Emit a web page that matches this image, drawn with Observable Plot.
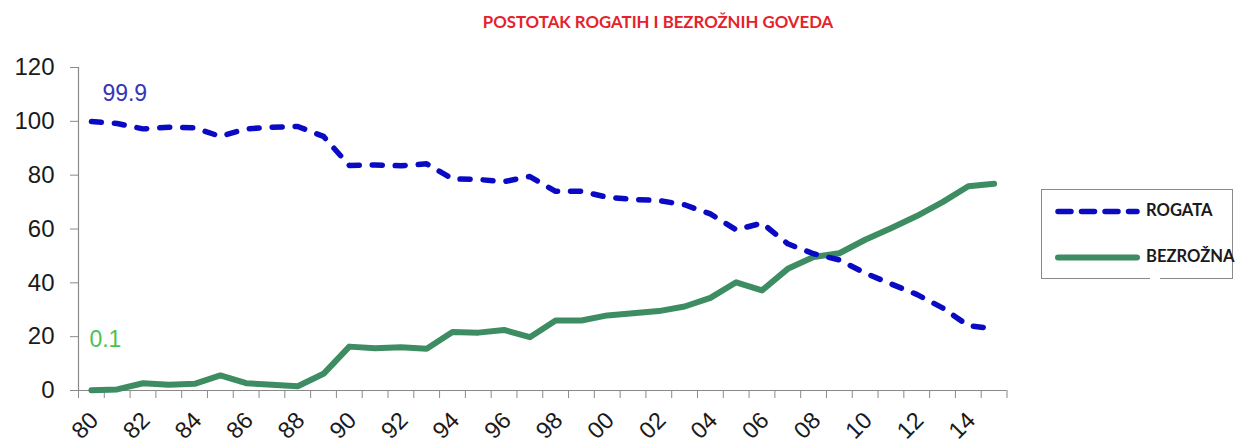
<!DOCTYPE html>
<html>
<head>
<meta charset="utf-8">
<script src="https://cdn.jsdelivr.net/npm/d3@7"></script>
<script src="https://cdn.jsdelivr.net/npm/@observablehq/plot@0.6"></script>
<style>
  html, body { margin: 0; padding: 0; background: #fff; }
  #wrap { position: relative; width: 1237px; height: 445px; overflow: hidden; }
  #title { position: absolute; left: 0; top: 0; width: 1237px; height: 40px; }
  #title span { position: absolute; left: 658px; top: 11px; transform: translateX(-50%); white-space: nowrap;
    font-family: Lato, "Open Sans", sans-serif; font-weight: 700; font-size: 16.8px; color: #e5222b; }
  #chart { position: absolute; left: 0; top: 40px; }
  #legend { position: absolute; left: 1041px; top: 189px; width: 192px; height: 90px; border: 1.5px solid #8a8a8a; box-sizing: border-box; overflow: visible; }
  #legend svg { position: absolute; left: 0; top: 0; overflow: visible; }
  #legend .lbl { position: absolute; font-family: Lato, sans-serif; font-weight: 700; font-size: 16.6px; color: #1a1a1a; white-space: nowrap; }
  #gap { position: absolute; left: 1150px; top: 277px; width: 10px; height: 4px; background: #fff; }
</style>
</head>
<body>
<div id="wrap">
  <div id="title"><span>POSTOTAK ROGATIH I BEZROŽNIH GOVEDA</span></div>
  <div id="chart"></div>
  <div id="legend"></div>
  <div id="gap"></div>
</div>
<script>
// ---- data ----
const years = [1980,1981,1982,1983,1984,1985,1986,1987,1988,1989,
               1990,1991,1992,1993,1994,1995,1996,1997,1998,1999,
               2000,2001,2002,2003,2004,2005,2006,2007,2008,2009,
               2010,2011,2012,2013,2014,2015];
const rogata = [99.9,99.2,97.2,97.8,97.6,94.4,97.2,97.8,98.1,94.4,
                83.6,83.8,83.5,84.2,78.6,78.4,77.6,79.5,74.0,74.0,
                71.8,71.0,70.6,69.0,65.6,59.7,62.2,54.5,50.8,48.5,
                43.6,39.6,35.7,30.7,24.1,22.9];
const bezrozna = [0.1,0.4,2.7,2.1,2.5,5.6,2.7,2.1,1.6,6.2,
                  16.3,15.7,16.1,15.5,21.7,21.5,22.5,19.8,26.0,26.0,
                  27.9,28.7,29.5,31.2,34.4,40.2,37.2,45.2,49.6,51.0,
                  56.0,60.3,64.8,70.0,75.9,76.8];
const yTicks = [0,20,40,60,80,100,120];
const xLabelYears = [1980,1982,1984,1986,1988,1990,1992,1994,1996,1998,2000,2002,2004,2006,2008,2010,2012,2014];
const seriesNames = ["ROGATA", "BEZROŽNA"];
const startLabels = [{year: 1980, value: 99.9, text: "99.9"}, {year: 1980, value: 0.1, text: "0.1"}];

const blue = "#0a0ac4";
const green = "#3d8c62";

const rowsR = years.map((y, i) => ({year: y, value: rogata[i]}));
const rowsB = years.map((y, i) => ({year: y, value: bezrozna[i]}));
const tickBounds = years.map(y => y - 0.5).concat([years[years.length - 1] + 0.5]);

const font = '"Liberation Sans", Arial, sans-serif';

const chart = Plot.plot({
  width: 1237,
  height: 405,
  marginLeft: 78,
  marginRight: 230.5,
  marginTop: 27,
  marginBottom: 55,
  style: {fontFamily: font, background: "transparent", overflow: "visible"},
  x: {domain: [years[0] - 0.5, years[years.length - 1] + 0.5]},
  y: {domain: [0, 120]},
  marks: [
    Plot.axisY({ticks: yTicks, tickSize: 8, tickPadding: 16, fontSize: 24, label: null, stroke: "#8a8a8a", fill: "#1a1a1a"}),
    Plot.axisX({ticks: tickBounds, tickSize: 8, tickFormat: () => "", label: null, stroke: "#8a8a8a"}),
    Plot.axisX({ticks: xLabelYears, tickSize: 0, tickPadding: 26, tickRotate: -45, fontSize: 23.5, dx: 3,
      tickFormat: d => String(d).slice(2), label: null, fill: "#1a1a1a"}),
    Plot.ruleX([years[0] - 0.5], {stroke: "#8a8a8a", strokeWidth: 1.2}),
    Plot.ruleY([0], {stroke: "#8a8a8a", strokeWidth: 1.2}),
    Plot.lineY(rowsB, {x: "year", y: "value", stroke: green, strokeWidth: 6, strokeLinejoin: "round", strokeLinecap: "round"}),
    Plot.lineY(rowsR, {x: "year", y: "value", stroke: blue, strokeWidth: 5.5, strokeDasharray: "10,13", strokeLinecap: "round", strokeLinejoin: "round"}),
    Plot.text([startLabels[0]], {x: "year", y: "value", text: "text", fill: "#3535b8", fontSize: 23, textAnchor: "start", dx: 11, dy: -28}),
    Plot.text([startLabels[1]], {x: "year", y: "value", text: "text", fill: "#4cc24e", fontSize: 23, textAnchor: "start", dx: -2, dy: -51})
  ]
});
document.getElementById("chart").appendChild(chart);

// legend
const leg = document.getElementById("legend");
const ns = "http://www.w3.org/2000/svg";
const ls = document.createElementNS(ns, "svg");
ls.setAttribute("width", 192); ls.setAttribute("height", 90);
function line(y, color, w, dash) {
  const l = document.createElementNS(ns, "line");
  l.setAttribute("x1", 16); l.setAttribute("x2", 95);
  l.setAttribute("y1", y); l.setAttribute("y2", y);
  l.setAttribute("stroke", color); l.setAttribute("stroke-width", w);
  l.setAttribute("stroke-linecap", "round");
  if (dash) l.setAttribute("stroke-dasharray", dash);
  ls.appendChild(l);
}
line(21.5, blue, 5.5, "13,10.5");
line(67.5, green, 6, null);
leg.appendChild(ls);
[[seriesNames[0], 104, 10], [seriesNames[1], 104, 56]].forEach(([t, x, y]) => {
  const s = document.createElement("div");
  s.className = "lbl"; s.textContent = t;
  s.style.left = x + "px"; s.style.top = y + "px";
  leg.appendChild(s);
});
</script>
</body>
</html>
